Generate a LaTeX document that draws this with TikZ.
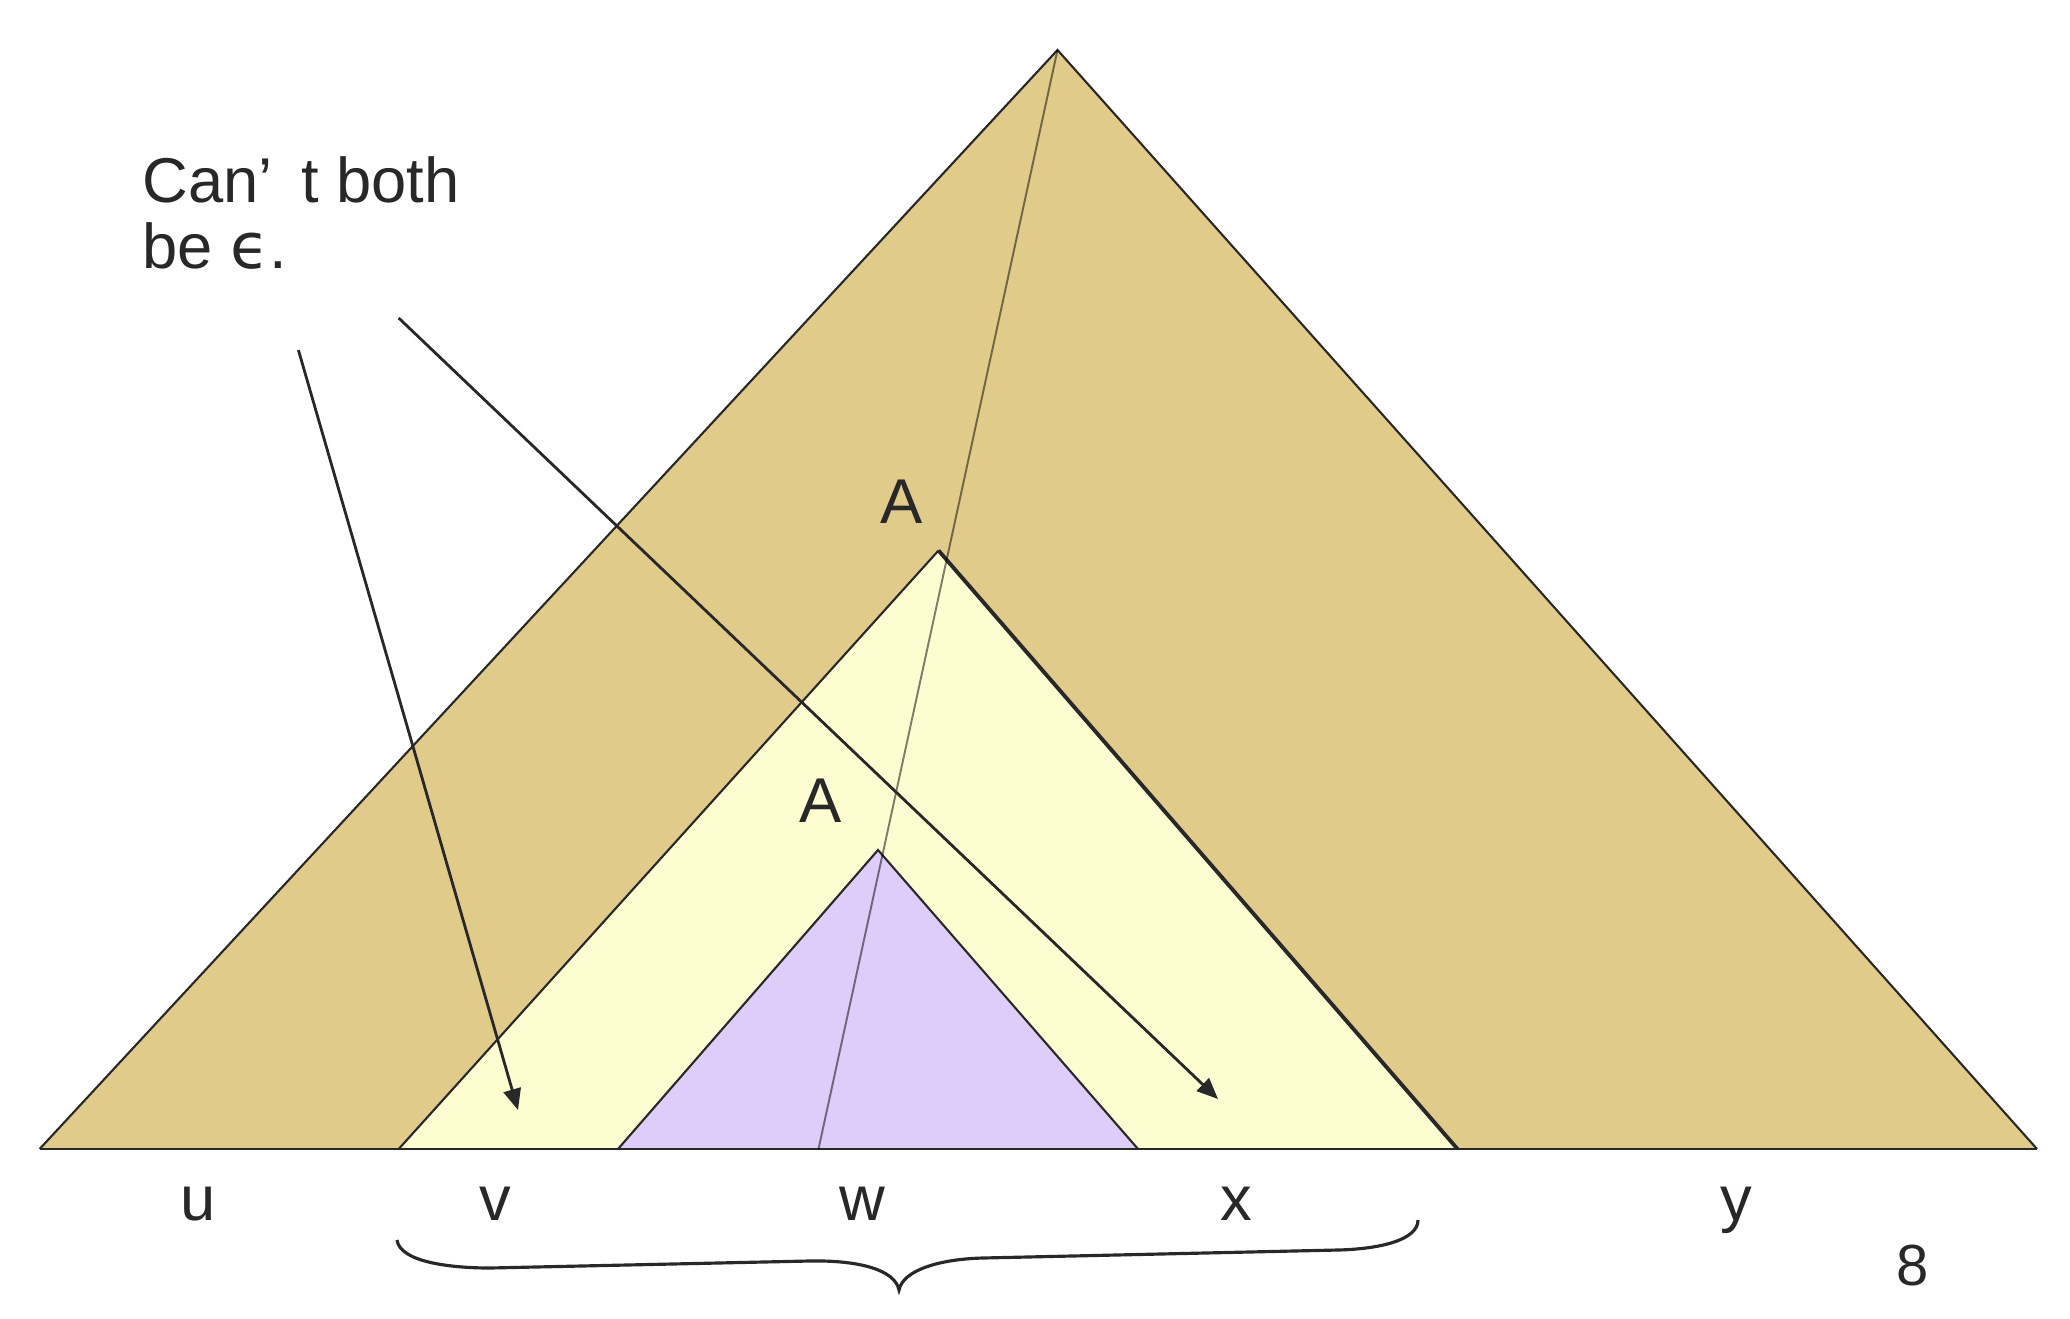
\documentclass[tikz,border=0pt]{standalone}
\usepackage{fontspec}
\setmainfont{Liberation Sans}
\newfontfamily\dejavu{DejaVu Sans}
\usetikzlibrary{arrows.meta}
\definecolor{tan}{RGB}{225,203,139}
\definecolor{paleyellow}{RGB}{254,253,210}
\definecolor{lilac}{RGB}{223,205,249}
\definecolor{ink}{RGB}{40,40,40}
\begin{document}
\begin{tikzpicture}[x=0.01cm,y=-0.01cm,
  tri/.style={draw=ink,line width=0.6pt,line join=miter},
  arr/.style={draw=ink,line width=0.8pt,-{Triangle[length=6pt,width=5pt]}},
  lbl/.style={text=ink,font=\fontsize{18}{18}\selectfont,anchor=base,inner sep=0pt},
  txt/.style={text=ink,font=\fontsize{18}{18}\selectfont,anchor=base west,inner sep=0pt}]
\useasboundingbox (0,0) rectangle (2070,1318);
% corners
\coordinate (BT) at (1057.5,50);
\coordinate (BL) at (39.6,1149);
\coordinate (BR) at (2037,1149);
\coordinate (YT) at (938.5,550.5);
\coordinate (YL) at (398.7,1149);
\coordinate (YR) at (1457.5,1149);
\coordinate (PT) at (878,850);
\coordinate (PL) at (618,1149);
\coordinate (PR) at (1138,1149);
\coordinate (LB) at (818.5,1149);
% triangles
\fill[tan] (BT) -- (BL) -- (BR) -- cycle;
\draw[tri] (BL) -- (BT) -- (BR);
\fill[paleyellow] (YT) -- (YL) -- (YR) -- cycle;
\draw[tri] (YL) -- (YT);
\draw[tri,line width=1.1pt] (YT) -- (YR);
\fill[lilac] (PT) -- (PL) -- (PR) -- cycle;
\draw[tri] (PL) -- (PT) -- (PR);
\draw[ink,line width=0.8pt] (BL) -- (BR);
% thin line from apex
\draw[black,opacity=0.5,line width=0.55pt] (BT) -- (LB);
% arrows
\coordinate (a1s) at (298.4,350);
\coordinate (a1e) at (518,1110);
\coordinate (a2s) at (398.7,318);
\coordinate (a2e) at (1218,1099);
\draw[arr] (a1s) -- (a1e);
\draw[arr] (a2s) -- (a2e);
% labels
\node[lbl] (A1) at (902,523) {A};
\node[lbl] (A2) at (821,822) {A};
\node[lbl] (u) at (198,1220) {u};
\node[lbl] (v) at (495,1220) {v};
\node[lbl] (w) at (862,1220) {w};
\node[lbl] (x) at (1236,1220) {x};
\node[lbl] (y) at (1736,1220) {y};
\node[lbl,font=\fontsize{16.5}{16.5}\selectfont] (pg) at (1913,1285) {8};
\node[txt] (t1) at (142,202) {Can’\hspace{0.45em}t both};
\node[txt] (t2) at (142,268) {be {\dejavu ϵ}.};
% brace
\coordinate (brL) at (397,1240);
\coordinate (brR) at (1418,1220);
\draw[ink,line width=0.9pt] (brL) .. controls (400,1262) and (450,1268) .. (490,1268)
  -- (809,1261) .. controls (860,1260) and (895,1270) .. (899,1290)
  .. controls (903,1270) and (940,1259) .. (983,1258)
  -- (1338,1250) .. controls (1380,1249) and (1418,1240) .. (brR);
\end{tikzpicture}
\end{document}
